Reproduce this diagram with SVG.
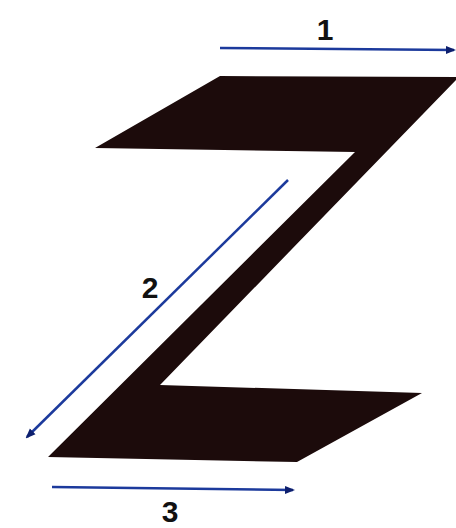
<svg xmlns="http://www.w3.org/2000/svg" width="456" height="528" viewBox="0 0 456 528">
<style>
.lbl{font-family:"Liberation Sans",Arial,sans-serif;font-weight:bold;font-size:30px;fill:#111;text-anchor:middle}
.arr{stroke:#1c3a9c;stroke-width:2.5;fill:none;marker-end:url(#ah)}
</style>
<defs>
<marker id="ah" viewBox="0 0 10 10" refX="8" refY="5" markerWidth="4" markerHeight="4" orient="auto" markerUnits="strokeWidth">
<path d="M0,1 L10,5 L0,9 Z" fill="#0d1f6e"/>
</marker>
</defs>
<rect width="456" height="528" fill="#ffffff"/>
<g id="z">
<polygon points="220,76 456,77 456,80 160,385 422,393 297,462 48,457 355,152 95,148" fill="#1c0b0b"/>
</g>
<g id="connectors">
<line class="arr" x1="220" y1="48" x2="454" y2="50"/>
<line class="arr" x1="288" y1="180" x2="27" y2="437"/>
<line class="arr" x1="52" y1="487" x2="293" y2="490"/>
</g>
<g id="labels">
<text class="lbl" x="325" y="40">1</text>
<text class="lbl" x="150" y="298">2</text>
<text class="lbl" x="170" y="522">3</text>
</g>
</svg>
